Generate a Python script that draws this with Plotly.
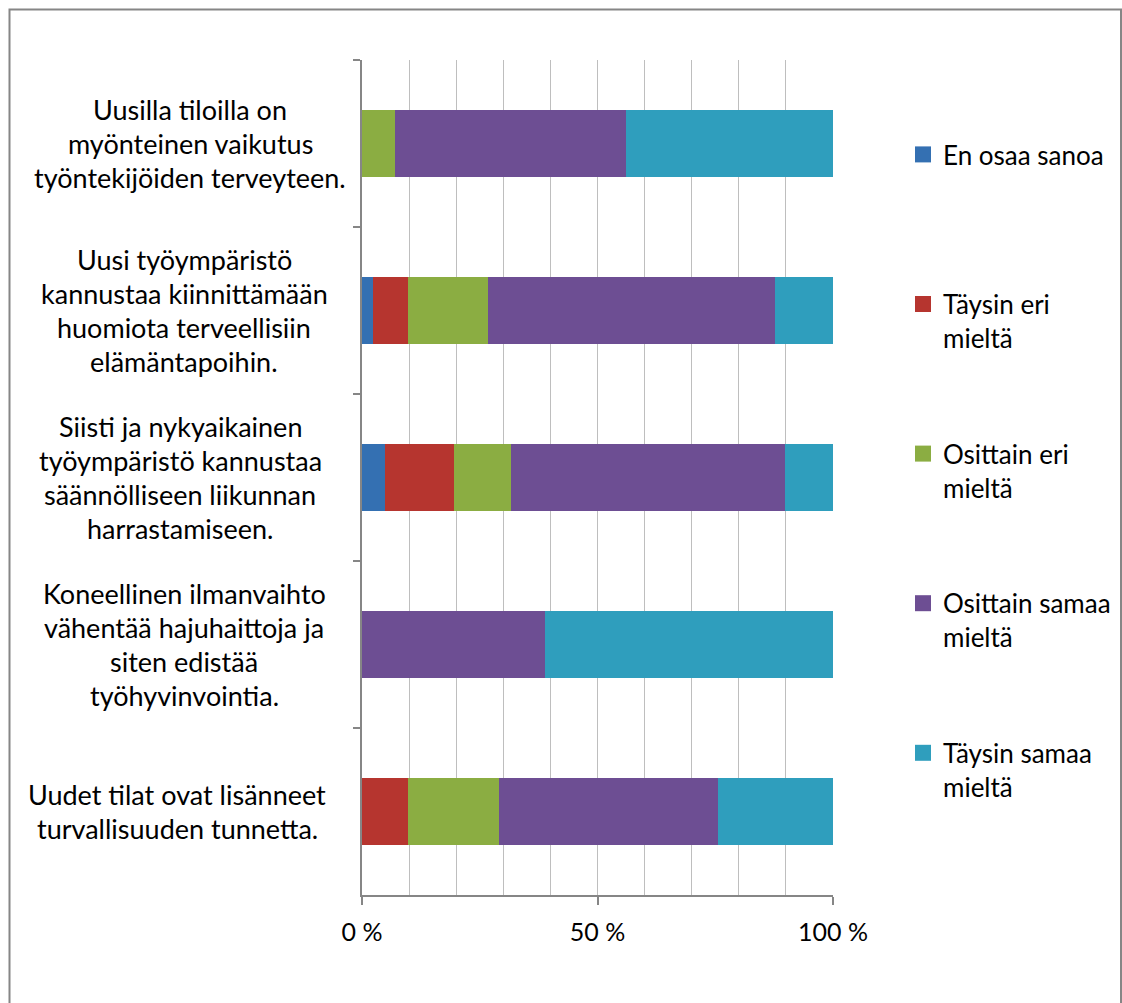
import plotly.graph_objects as go

# --- data -----------------------------------------------------------------
categories = [
    "Uusilla tiloilla on myönteinen vaikutus työntekijöiden terveyteen.",
    "Uusi työympäristö kannustaa kiinnittämään huomiota terveellisiin elämäntapoihin.",
    "Siisti ja nykyaikainen työympäristö kannustaa säännölliseen liikunnan harrastamiseen.",
    "Koneellinen ilmanvaihto vähentää hajuhaittoja ja siten edistää työhyvinvointia.",
    "Uudet tilat ovat lisänneet turvallisuuden tunnetta.",
]
category_lines = [
    ["Uusilla tiloilla on", "myönteinen vaikutus", "työntekijöiden terveyteen."],
    ["Uusi työympäristö", "kannustaa kiinnittämään", "huomiota terveellisiin", "elämäntapoihin."],
    ["Siisti ja nykyaikainen", "työympäristö kannustaa", "säännölliseen liikunnan", "harrastamiseen."],
    ["Koneellinen ilmanvaihto", "vähentää hajuhaittoja ja", "siten edistää", "työhyvinvointia."],
    ["Uudet tilat ovat lisänneet", "turvallisuuden tunnetta."],
]

series_names = [
    "En osaa sanoa",
    "Täysin eri mieltä",
    "Osittain eri mieltä",
    "Osittain samaa mieltä",
    "Täysin samaa mieltä",
]
legend_labels = [
    "En osaa sanoa<br>\u00a0",
    "Täysin eri<br>mieltä",
    "Osittain eri<br>mieltä",
    "Osittain samaa<br>mieltä",
    "Täysin samaa<br>mieltä",
]

# share of answers, percent
en_osaa_sanoa = [0.0, 2.3, 4.9, 0.0, 0.0]
taysin_eri = [0.0, 7.4, 14.6, 0.0, 9.7]
osittain_eri = [7.1, 17.0, 12.1, 0.0, 19.3]
osittain_samaa = [48.9, 61.0, 58.3, 38.8, 46.6]
taysin_samaa = [44.0, 12.3, 10.1, 61.2, 24.4]

x_tick_vals = [0, 50, 100]
x_tick_text = ["0 %", "50 %", "100 %"]

# --- styling --------------------------------------------------------------
colors = ["#3470B2", "#B6352F", "#8BAD42", "#6D4E93", "#2F9EBD"]
series_values = [en_osaa_sanoa, taysin_eri, osittain_eri, osittain_samaa, taysin_samaa]

W, H = 1122, 1003
ML, MR, MT, MB = 362, 289, 60, 108
PW = W - ML - MR
PH = H - MT - MB
AXIS_GREY = "#868686"
GRID_GREY = "#BEBEBE"
FONT = "Lato"
TICK_SIZE = 25
LABEL_SIZE = 27
LEGEND_SIZE = 26
LABEL_LINE_STEP = 34
label_center_px = [190, 184, 180, 184, 177]

fig = go.Figure()
for name, label, vals, col in zip(series_names, legend_labels, series_values, colors):
    fig.add_trace(go.Bar(
        y=categories, x=vals, orientation="h", name=name,
        marker=dict(color=col, line=dict(width=0)),
        legendgroup=name, showlegend=False,
    ))
    # square legend swatch for the series
    fig.add_trace(go.Scatter(
        x=[None], y=[None], mode="markers", name=label,
        marker=dict(symbol="square", size=16, color=col),
        legendgroup=name, showlegend=True,
    ))

# category labels, one annotation per line
annotations = []
for i, lines in enumerate(category_lines):
    n = len(lines)
    for j, line in enumerate(lines):
        annotations.append(dict(
            text=line, xref="paper", x=0, xshift=label_center_px[i] - ML,
            xanchor="center", yref="y", y=categories[i],
            yshift=((n - 1) / 2 - j) * LABEL_LINE_STEP, yanchor="middle",
            showarrow=False, font=dict(family=FONT, size=LABEL_SIZE, color="#000000"),
        ))

# outer frame around the whole chart
def px_to_paper_x(px):
    return (px - ML) / PW

def px_to_paper_y(py):
    return (H - MB - py) / PH

frame = dict(
    type="rect", xref="paper", yref="paper",
    x0=px_to_paper_x(9.5), x1=px_to_paper_x(1121),
    y0=px_to_paper_y(1012), y1=px_to_paper_y(9.5),
    line=dict(color=AXIS_GREY, width=2), fillcolor="rgba(0,0,0,0)", layer="below",
)

fig.update_layout(
    width=W, height=H,
    margin=dict(l=ML, r=MR, t=MT, b=MB, autoexpand=False),
    barmode="stack", bargap=0.593,
    plot_bgcolor="white", paper_bgcolor="white",
    font=dict(family=FONT, size=TICK_SIZE, color="#000000"),
    xaxis=dict(
        range=[0, 100], tickvals=x_tick_vals, ticktext=x_tick_text,
        ticks="outside", ticklen=8, tickwidth=1.5, tickcolor=AXIS_GREY,
        showline=True, linecolor=AXIS_GREY, linewidth=1.5,
        showgrid=True, gridcolor=GRID_GREY, gridwidth=1.3,
        minor=dict(dtick=10, showgrid=True, gridcolor=GRID_GREY, gridwidth=1.3),
        zeroline=False, ticklabelstandoff=6,
        tickfont=dict(family=FONT, size=TICK_SIZE),
    ),
    yaxis=dict(
        type="category", range=[4.5, -0.5], showticklabels=False,
        ticks="outside", tickson="boundaries", ticklen=7, tickwidth=1.5,
        tickcolor=AXIS_GREY, showline=True, linecolor=AXIS_GREY, linewidth=1.5,
        showgrid=False, zeroline=False,
    ),
    legend=dict(
        x=px_to_paper_x(903), xanchor="left",
        y=px_to_paper_y(131), yanchor="top",
        traceorder="grouped", tracegroupgap=79, valign="top",
        font=dict(family=FONT, size=LEGEND_SIZE, color="#000000"),
        bgcolor="rgba(0,0,0,0)",
    ),
    annotations=annotations,
    shapes=[frame],
)

fig.write_html("out.html")
